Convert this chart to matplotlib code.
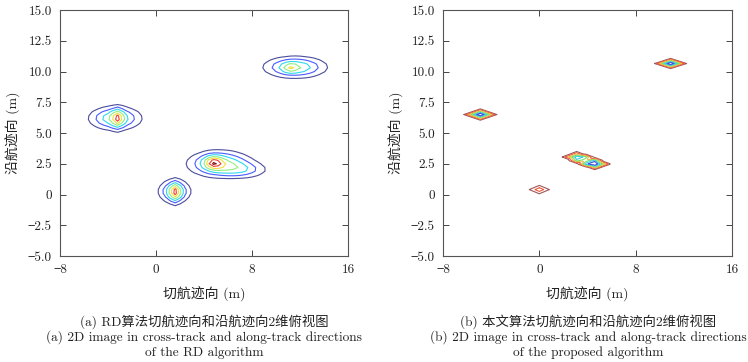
import numpy as np
import matplotlib
matplotlib.use("Agg")
import matplotlib.pyplot as plt

plt.rcParams['font.family'] = ['cmr10', 'Noto Sans CJK SC', 'DejaVu Serif']
plt.rcParams['axes.formatter.use_mathtext'] = True

# ---- data ----
x_ticks = [-8, 0, 8, 16]
x_tick_labels = ['\u22128', '0', '8', '16']
y_ticks = [-5.0, -2.5, 0, 2.5, 5.0, 7.5, 10.0, 12.5, 15.0]
y_tick_labels = ['\u22125.0', '\u22122.5', '0', '2.5', '5.0', '7.5', '10.0', '12.5', '15.0']

# RD algorithm: blurred targets (gaussian components)
rd_x   = [-3.4, -3.2, 1.55, 1.6, 5.3, 7.2, 4.8, 11.6, 11.2]
rd_y   = [6.2, 6.2, 0.25, 0.2, 2.5, 2.0, 2.6, 10.35, 10.3]
rd_amp = [0.50, 0.42, 0.50, 0.41, 0.55, 0.25, 0.45, 0.50, 0.22]
rd_sx  = [1.25, 0.3, 0.75, 0.28, 1.5, 1.3, 0.5, 1.5, 0.4]
rd_sy  = [0.55, 0.5, 0.55, 0.5, 0.6, 0.4, 0.35, 0.5, 0.25]
rd_levels = [0.1, 0.22, 0.35, 0.5, 0.65, 0.8, 0.93]
rd_colors = ['#4c4c9c', '#4a5cff', '#30d8f0', '#8ef080', '#f0e040', '#f04030', '#801818']

# proposed algorithm: focused targets (diamond pyramids)
pr_x   = [-4.9, 0.0, 3.1, 3.85, 4.6, 10.9]
pr_y   = [6.5, 0.4, 3.05, 2.77, 2.48, 10.65]
pr_amp = [1.0, 0.33, 0.75, 0.5, 1.0, 1.0]
pr_hx  = [1.5, 1.1, 1.35, 1.7, 1.45, 1.45]
pr_hy  = [0.5, 0.45, 0.5, 0.6, 0.5, 0.45]
pr_levels = [0.08, 0.22, 0.38, 0.52, 0.66, 0.8]
pr_colors = ['#a05858', '#f06040', '#e8c040', '#7ee070', '#40d0e0', '#4050e0']

captions_a = ['(a) RD算法切航迹向和沿航迹向2维俯视图',
              '(a) 2D image in cross-track and along-track directions',
              'of the RD algorithm']
captions_b = ['(b) 本文算法切航迹向和沿航迹向2维俯视图',
              '(b) 2D image in cross-track and along-track directions',
              'of the proposed algorithm']

fig = plt.figure(figsize=(7.48, 3.62), dpi=100)
W, H = 748, 362
axL = fig.add_axes([60 / W, 1 - 256 / H, 288 / W, 246 / H])
axR = fig.add_axes([443 / W, 1 - 256 / H, 289 / W, 246 / H])

# RD field (coarse grid -> polygonal contours)
gx = np.arange(-8, 16.01, 0.4)
gy = np.arange(-5, 15.01, 0.3)
X, Y = np.meshgrid(gx, gy)
Z = np.zeros_like(X)
for cx, cy, a, sx, sy in zip(rd_x, rd_y, rd_amp, rd_sx, rd_sy):
    Z += a * np.exp(-0.5 * (((X - cx) / sx) ** 2 + ((Y - cy) / sy) ** 2))
axL.contour(X, Y, Z, levels=rd_levels, colors=rd_colors, linewidths=0.8)

# proposed field
gx2 = np.arange(-8, 16.01, 0.1)
gy2 = np.arange(-5, 15.01, 0.05)
X2, Y2 = np.meshgrid(gx2, gy2)
Z2 = np.zeros_like(X2)
for cx, cy, a, hx, hy in zip(pr_x, pr_y, pr_amp, pr_hx, pr_hy):
    Z2 += a * np.clip(1 - (np.abs(X2 - cx) / hx + np.abs(Y2 - cy) / hy), 0, None)
axR.contour(X2, Y2, Z2, levels=pr_levels, colors=pr_colors, linewidths=0.8)

for ax, caps, cxpix in ((axL, captions_a, 204), (axR, captions_b, 588)):
    ax.set_xlim(-8, 16)
    ax.set_ylim(-5, 15)
    ax.set_xticks(x_ticks)
    ax.set_xticklabels(x_tick_labels)
    ax.set_yticks(y_ticks)
    ax.set_yticklabels(y_tick_labels)
    ax.tick_params(direction='in', top=True, right=True, length=4, width=0.7,
                   labelsize=9.5, colors='#444444', labelcolor='#222222', pad=6)
    for s in ax.spines.values():
        s.set_color('#555555')
        s.set_linewidth(0.8)
    ax.set_xlabel('切航迹向 (m)', fontsize=10, labelpad=7, color='#222222')
    ax.set_ylabel('沿航迹向 (m)', fontsize=10, labelpad=5, color='#222222')
    for i, t in enumerate(caps):
        fig.text(cxpix / W, 1 - (322 + 15.5 * i) / H, t, ha='center', va='center',
                 fontsize=9.6, color='#222222')

fig.savefig('out.png', dpi=100)
